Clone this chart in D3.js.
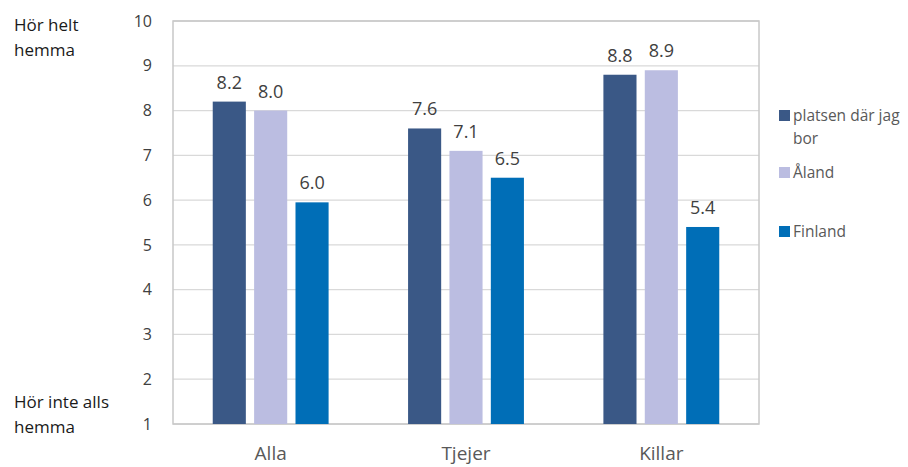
<!DOCTYPE html>
<html>
<head>
<meta charset="utf-8">
<script src="https://cdn.jsdelivr.net/npm/d3@7"></script>
<style>
  body { margin: 0; background: #fff; }
  svg { font-family: "Open Sans", "Noto Sans", sans-serif; }
</style>
</head>
<body>
<div id="chart"></div>
<script>
// Data
const groups = ["Alla", "Tjejer", "Killar"];
const series = ["platsen där jag bor", "Åland", "Finland"];
const platsen = [8.2, 7.6, 8.8];
const aland = [8.0, 7.1, 8.9];
const finland = [5.95, 6.5, 5.4];
const labels = [["8.2", "8.0", "6.0"], ["7.6", "7.1", "6.5"], ["8.8", "8.9", "5.4"]];
const yTicks = [1, 2, 3, 4, 5, 6, 7, 8, 9, 10];
const colors = ["#3A5886", "#BBBDE1", "#006EB7"];

const svg = d3.select("#chart").append("svg")
    .attr("width", 908)
    .attr("height", 467);

const margin = { top: 21, right: 149, bottom: 43, left: 173 };
const width = 908 - margin.left - margin.right;
const height = 467 - margin.top - margin.bottom;

const chart = svg.append("g")
    .attr("transform", `translate(${margin.left}, ${margin.top})`);

// Scales
const x0 = d3.scaleBand().domain(groups).range([0, width]).paddingInner(0).paddingOuter(0);
const x1 = d3.scaleBand().domain(series).range([0, 120]).paddingInner(0.2).paddingOuter(0.05);
const yScale = d3.scaleLinear().domain([1, 10]).range([height, 0]);

// Gridlines
chart.append("g")
    .selectAll("line")
    .data(yTicks)
    .enter()
    .append("line")
    .attr("x1", 0).attr("x2", width)
    .attr("y1", d => yScale(d)).attr("y2", d => yScale(d))
    .attr("stroke", "#d9d9d9")
    .attr("stroke-width", 1.3);

// Frame
chart.append("rect")
    .attr("x", 0).attr("y", 0)
    .attr("width", width).attr("height", height)
    .attr("fill", "none")
    .attr("stroke", "#c8c8c8")
    .attr("stroke-width", 1.5);

// Y axis tick labels
const yAxis = chart.append("g")
    .call(d3.axisLeft(yScale).tickValues(yTicks).tickSize(0).tickPadding(21));
yAxis.select(".domain").remove();
yAxis.selectAll("text")
    .attr("font-size", "16px")
    .attr("fill", "#404040")
    .attr("font-family", "Open Sans, sans-serif");

// Bars
const table = groups.map((g, i) => ({ group: g, vals: [platsen[i], aland[i], finland[i]], labels: labels[i] }));

const groupSel = chart.selectAll("g.grp")
    .data(table)
    .enter()
    .append("g")
    .attr("class", "grp")
    .attr("transform", d => `translate(${x0(d.group) + (x0.bandwidth() - 120) / 2}, 0)`);

groupSel.selectAll("rect")
    .data(d => d.vals.map((v, j) => ({ key: series[j], v: v, label: d.labels[j], j: j })))
    .enter()
    .append("rect")
    .attr("x", d => x1(d.key))
    .attr("width", x1.bandwidth())
    .attr("y", d => yScale(d.v))
    .attr("height", d => yScale(1) - yScale(d.v))
    .attr("fill", d => colors[d.j]);

groupSel.selectAll("text.val")
    .data(d => d.vals.map((v, j) => ({ key: series[j], v: v, label: d.labels[j] })))
    .enter()
    .append("text")
    .attr("class", "val")
    .attr("x", d => x1(d.key) + x1.bandwidth() / 2)
    .attr("y", d => yScale(d.v) - 13)
    .attr("text-anchor", "middle")
    .attr("font-size", "18px")
    .attr("fill", "#404040")
    .text(d => d.label);

// Category labels
chart.selectAll("text.cat")
    .data(groups)
    .enter()
    .append("text")
    .attr("class", "cat")
    .attr("x", d => x0(d) + x0.bandwidth() / 2)
    .attr("y", height + 36)
    .attr("text-anchor", "middle")
    .attr("font-size", "19px")
    .attr("fill", "#595959")
    .text(d => d);

// Left side labels
const leftLabels = [
    { lines: ["Hör helt", "hemma"], y: 31 },
    { lines: ["Hör inte alls", "hemma"], y: 408 }
];
leftLabels.forEach(l => {
    const t = svg.append("text")
        .attr("x", 14)
        .attr("y", l.y)
        .attr("font-size", "17px")
        .attr("fill", "#1a1a1a");
    l.lines.forEach((s, i) => {
        t.append("tspan").attr("x", 14).attr("dy", i === 0 ? 0 : 25).text(s);
    });
});

// Legend
const legendItems = [
    { lines: ["platsen där jag", "bor"], y: 121 },
    { lines: ["Åland"], y: 178 },
    { lines: ["Finland"], y: 237 }
];
const legend = svg.append("g");
legendItems.forEach((d, i) => {
    legend.append("rect")
        .attr("x", 779).attr("y", d.y - 11)
        .attr("width", 11).attr("height", 11)
        .attr("fill", colors[i]);
    const t = legend.append("text")
        .attr("x", 793).attr("y", d.y)
        .attr("font-size", "15.5px")
        .attr("fill", "#595959");
    d.lines.forEach((s, k) => {
        t.append("tspan").attr("x", 793).attr("dy", k === 0 ? 0 : 23).text(s);
    });
});
</script>
</body>
</html>
